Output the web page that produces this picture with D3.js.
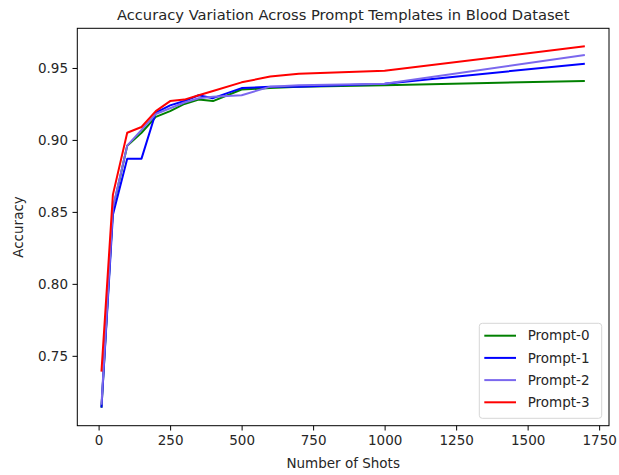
<!DOCTYPE html>
<html>
<head>
<meta charset="utf-8">
<script src="https://cdn.jsdelivr.net/npm/d3@7"></script>
<style>
  body { margin: 0; background: #fff; }
  text { font-family: "DejaVu Sans", sans-serif; fill: #262626; }
</style>
</head>
<body>
<div id="chart"></div>
<script>
const shots = [10, 50, 100, 150, 200, 250, 300, 350, 400, 500, 600, 700, 1000, 1700];
const prompt0 = [0.714, 0.852, 0.896, 0.905, 0.916, 0.920, 0.925, 0.928, 0.927, 0.935, 0.936, 0.937, 0.938, 0.941];
const prompt1 = [0.714, 0.848, 0.887, 0.887, 0.919, 0.924, 0.927, 0.931, 0.929, 0.936, 0.937, 0.937, 0.939, 0.953];
const prompt2 = [0.716, 0.853, 0.896, 0.907, 0.918, 0.922, 0.926, 0.929, 0.930, 0.931, 0.937, 0.938, 0.939, 0.959];
const prompt3 = [0.739, 0.862, 0.905, 0.909, 0.920, 0.927, 0.928, 0.931, 0.934, 0.940, 0.944, 0.946, 0.948, 0.965];
const seriesNames = ['Prompt-0', 'Prompt-1', 'Prompt-2', 'Prompt-3'];
const xTicks = [0, 250, 500, 750, 1000, 1250, 1500, 1750];
const yTicks = [0.75, 0.80, 0.85, 0.90, 0.95];

const width = 619;
const height = 475;
const margin = { top: 28.3, right: 10, bottom: 49.3, left: 77.3 };
const colors = ['#008000', '#0000ff', '#7b68ee', '#ff0000'];

const series = [prompt0, prompt1, prompt2, prompt3].map((vals, i) => ({
  name: seriesNames[i],
  color: colors[i],
  points: vals.map((v, j) => ({ x: shots[j], y: v }))
}));

// matplotlib-style 5% padding on both axes
const xExt = d3.extent(shots);
const yExt = d3.extent([].concat(prompt0, prompt1, prompt2, prompt3));
const xPad = (xExt[1] - xExt[0]) * 0.05;
const yPad = (yExt[1] - yExt[0]) * 0.05;

const x = d3.scaleLinear()
  .domain([xExt[0] - xPad, xExt[1] + xPad])
  .range([margin.left, width - margin.right]);
const y = d3.scaleLinear()
  .domain([yExt[0] - yPad, yExt[1] + yPad])
  .range([height - margin.bottom, margin.top]);

const svg = d3.select('#chart').append('svg')
  .attr('width', width)
  .attr('height', height);

const line = d3.line()
  .x(d => x(d.x))
  .y(d => y(d.y));

svg.append('g')
  .selectAll('path')
  .data(series)
  .enter().append('path')
    .attr('fill', 'none')
    .attr('stroke', d => d.color)
    .attr('stroke-width', 2)
    .attr('stroke-linejoin', 'round')
    .attr('d', d => line(d.points));

// axes
const xAxis = svg.append('g')
  .attr('transform', `translate(0, ${height - margin.bottom})`)
  .call(d3.axisBottom(x).tickValues(xTicks).tickFormat(d3.format('d')).tickSize(4.8).tickPadding(4.5));
const yAxis = svg.append('g')
  .attr('transform', `translate(${margin.left}, 0)`)
  .call(d3.axisLeft(y).tickValues(yTicks).tickFormat(d3.format('.2f')).tickSize(4.8).tickPadding(4.5));

[xAxis, yAxis].forEach(g => {
  g.select('.domain').remove();
  g.selectAll('line').attr('stroke', '#000').attr('stroke-width', 1);
  g.selectAll('text').style('font-size', '13.5px').style('font-family', '"DejaVu Sans", sans-serif').attr('fill', '#262626');
});

// frame
svg.append('rect')
  .attr('x', margin.left)
  .attr('y', margin.top)
  .attr('width', width - margin.right - margin.left)
  .attr('height', height - margin.bottom - margin.top)
  .attr('fill', 'none')
  .attr('stroke', '#000')
  .attr('stroke-width', 1);

const cx = (margin.left + width - margin.right) / 2;

svg.append('text')
  .attr('x', cx)
  .attr('y', 20)
  .attr('text-anchor', 'middle')
  .style('font-size', '14.7px')
  .text('Accuracy Variation Across Prompt Templates in Blood Dataset');

svg.append('text')
  .attr('x', cx)
  .attr('y', 468)
  .attr('text-anchor', 'middle')
  .style('font-size', '13.5px')
  .text('Number of Shots');

svg.append('text')
  .attr('transform', `translate(23, ${(margin.top + height - margin.bottom) / 2}) rotate(-90)`)
  .attr('text-anchor', 'middle')
  .style('font-size', '13.5px')
  .text('Accuracy');

// legend
const legend = svg.append('g').attr('transform', 'translate(479.3, 323.3)');
legend.append('rect')
  .attr('width', 122.4)
  .attr('height', 95)
  .attr('rx', 3)
  .attr('fill', '#fff')
  .attr('fill-opacity', 0.8)
  .attr('stroke', '#d6d6d6');

const item = legend.selectAll('.item')
  .data(series)
  .enter().append('g')
    .attr('class', 'item')
    .attr('transform', (d, i) => `translate(0, ${12.4 + i * 22.2})`);

item.append('line')
  .attr('x1', 5)
  .attr('x2', 36.7)
  .attr('stroke', d => d.color)
  .attr('stroke-width', 2);

item.append('text')
  .attr('x', 48.4)
  .attr('dy', '0.35em')
  .style('font-size', '13.5px')
  .text(d => d.name);
</script>
</body>
</html>
